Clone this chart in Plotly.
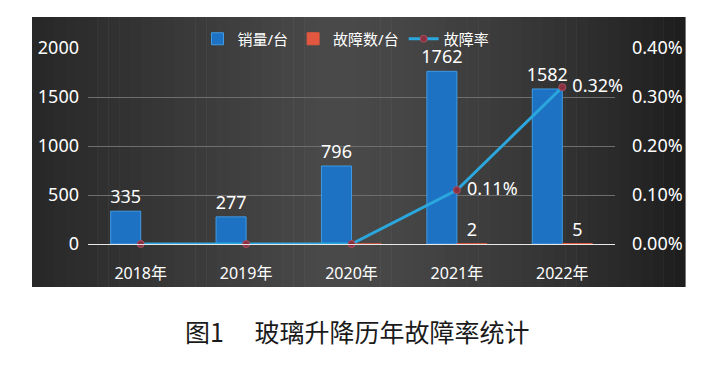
import plotly.graph_objects as go

years = ["2018年", "2019年", "2020年", "2021年", "2022年"]
sales = [335, 277, 796, 1762, 1582]
faults = [0, 0, 0, 2, 5]
fault_text = ["", "", "", "2", "5"]
rate = [0.0, 0.0, 0.0, 0.0011, 0.0032]
rate_text = ["", "", "", " 0.11%", " 0.32%"]
left_ticks = [0, 500, 1000, 1500, 2000]
right_ticks = [0, 0.001, 0.002, 0.003, 0.004]
right_tick_text = ["0.00%", "0.10%", "0.20%", "0.30%", "0.40%"]
caption = "图1\u3000 玻璃升降历年故障率统计"

FONT = "Noto Sans, Noto Sans CJK SC, sans-serif"

fig = go.Figure()
fig.add_trace(go.Bar(
    x=years, y=sales, name="销量/台", text=[str(v) for v in sales],
    textposition="outside", cliponaxis=False, constraintext="none",
    textfont=dict(color="white", size=18, family=FONT),
    marker=dict(color="#1e72c4", line=dict(color="#3f9be4", width=1)),
))
fig.add_trace(go.Bar(
    x=years, y=faults, name="故障数/台", text=fault_text,
    textposition="outside", cliponaxis=False, constraintext="none",
    textfont=dict(color="white", size=18, family=FONT),
    marker=dict(color="#e2573f", line=dict(color="#e2573f", width=1)),
))
fig.add_trace(go.Scatter(
    x=years, y=rate, name="故障率", yaxis="y2", mode="lines+markers+text",
    text=rate_text, textposition="middle right", cliponaxis=False,
    textfont=dict(color="white", size=18, family=FONT),
    line=dict(color="#2ba7dd", width=3),
    marker=dict(color="#8a3040", size=7, line=dict(color="#a85060", width=1)),
))

# page body has an 8px margin: all pixel targets are shifted by -8
FW, FH = 711, 358
L, T, W, H = 80, 40, 527, 196
px0, px1, py0, py1 = 24, 677, 9, 279
def fx(p):
    return (p - L) / W
def fy(p):
    return (T + H - p) / H
shapes = []
n = 60
for i in range(n):
    t = (i + 0.5) / n
    if t < 0.45:
        v = 40 + (t / 0.45) * 34
    else:
        v = 74 - ((t - 0.45) / 0.55) ** 1.5 * 44
    c = int(v)
    x0 = px0 + (px1 - px0) * i / n
    x1 = px0 + (px1 - px0) * (i + 1) / n + 0.6
    shapes.append(dict(type="rect", xref="paper", yref="paper",
                       x0=fx(x0), x1=fx(x1), y0=fy(py1), y1=fy(py0),
                       fillcolor=f"rgb({c},{c},{c})", line=dict(width=0), layer="below"))

fig.update_layout(
    width=FW, height=FH,
    margin=dict(l=L, r=FW - L - W, t=T, b=FH - T - H, autoexpand=False),
    paper_bgcolor="white", plot_bgcolor="rgba(0,0,0,0)",
    barmode="group", bargap=0.43, bargroupgap=0,
    shapes=shapes,
    font=dict(family=FONT, color="white"),
    showlegend=True,
    legend=dict(orientation="h", x=fx(338), xanchor="center", y=fy(31), yanchor="middle",
                font=dict(size=15, color="white", family=FONT),
                bgcolor="rgba(0,0,0,0)", itemwidth=30, tracegroupgap=0),
    xaxis=dict(showgrid=False, tickfont=dict(size=16, color="white"),
               ticks="", showline=True, linecolor="#e8e8e8", linewidth=1,
               ticklabelstandoff=15, automargin=False),
    yaxis=dict(range=[0, 2000], tickvals=left_ticks, showgrid=True,
               gridcolor="#6e6e6e", gridwidth=1, zeroline=False,
               tickfont=dict(size=18, color="white"), ticklabelstandoff=8,
               automargin=False),
    yaxis2=dict(range=[0, 0.004], overlaying="y", side="right",
                tickvals=right_ticks, ticktext=right_tick_text,
                showgrid=False, zeroline=False,
                tickfont=dict(size=18, color="white"), ticklabelstandoff=16,
                automargin=False),
    annotations=[dict(text=caption, xref="paper", yref="paper",
                      x=fx(349), y=fy(323), xanchor="center", yanchor="middle",
                      showarrow=False,
                      font=dict(size=25, color="#1a1a1a", family="Noto Sans CJK SC, sans-serif"))],
)

fig.write_html("out.html")
